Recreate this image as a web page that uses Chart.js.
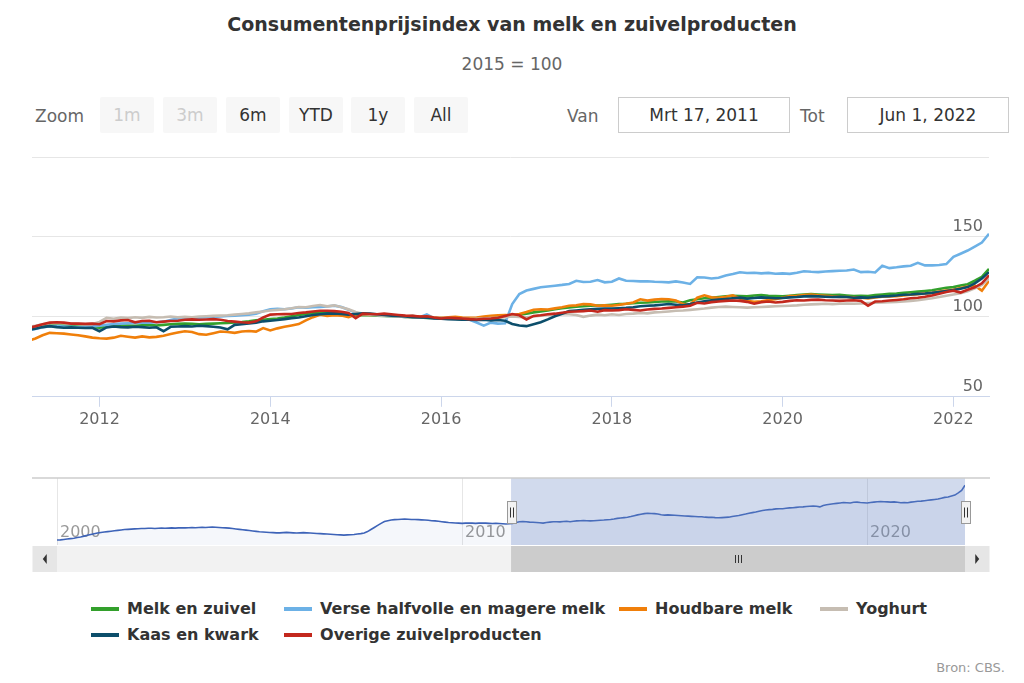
<!DOCTYPE html>
<html lang="nl">
<head>
<meta charset="utf-8">
<title>Consumentenprijsindex van melk en zuivelproducten</title>
<script src="https://cdn.jsdelivr.net/npm/chart.js@4.4.0/dist/chart.umd.min.js"></script>
<style>
  html, body { margin: 0; padding: 0; background: #fff; }
  body { width: 1024px; height: 683px; position: relative; overflow: hidden;
         font-family: "DejaVu Sans", Verdana, sans-serif; }
  .title { position: absolute; top: 13px; left: 0; width: 1024px; text-align: center;
           font-size: 19px; font-weight: bold; color: #333; }
  .subtitle { position: absolute; top: 54px; left: 0; width: 1024px; text-align: center;
              font-size: 17px; color: #666; }
  .lbl { position: absolute; top: 106px; font-size: 17px; color: #666; }
  .btn { position: absolute; top: 97px; width: 54px; height: 36px; line-height: 36px;
         background: #f7f7f7; border-radius: 2px; text-align: center; font-size: 17px; color: #333; }
  .btn.off { color: #ccc; }
  .box { position: absolute; top: 97px; height: 34px; line-height: 34px; border: 1px solid #ccc;
         text-align: center; font-size: 17px; color: #333; }
  #mainChart { position: absolute; left: 0; top: 140px; }
  #navChart { position: absolute; left: 0; top: 470px; }
  #legend { position: absolute; left: 0; top: 598px; width: 1024px; display: flex; justify-content: center; }
  #legend .grid { display: grid; grid-template-columns: 193px 335px 201px auto; row-gap: 5px; margin-right: 6px; }
  .legend-item { display: flex; align-items: center; font-size: 16px; font-weight: bold; color: #333; height: 21px; }
  .legend-line { width: 28px; height: 4px; margin-right: 8px; }
  .credits { position: absolute; right: 19px; top: 660px; font-size: 13px; color: #999; }
</style>
</head>
<body>
<div class="title">Consumentenprijsindex van melk en zuivelproducten</div>
<div class="subtitle">2015 = 100</div>

<div class="lbl" style="left:35px">Zoom</div>
<div class="btn off" style="left:100px">1m</div>
<div class="btn off" style="left:163px">3m</div>
<div class="btn" style="left:226px">6m</div>
<div class="btn" style="left:289px">YTD</div>
<div class="btn" style="left:351px">1y</div>
<div class="btn" style="left:414px">All</div>
<div class="lbl" style="left:567px">Van</div>
<div class="box" style="left:618px;width:170px">Mrt 17, 2011</div>
<div class="lbl" style="left:800px">Tot</div>
<div class="box" style="left:847px;width:160px">Jun 1, 2022</div>

<canvas id="mainChart" width="1024" height="300"></canvas>
<canvas id="navChart" width="1024" height="110"></canvas>
<div id="legend"><div class="grid" id="legendGrid"></div></div>
<div class="credits">Bron: CBS.</div>

<script>
// ===== DATA (maandcijfers, 2015 = 100) =====
// hoofdgrafiek: mrt 2011 t/m jun 2022
const startJaar = 2011;
const startMaand = 3;

const reeksNamen = ['Melk en zuivel', 'Verse halfvolle en magere melk', 'Houdbare melk',
                    'Yoghurt', 'Kaas en kwark', 'Overige zuivelproducten'];
const reeksKleuren = ['#33a02c', '#6cb1e6', '#f07f0a', '#c6bdb2', '#0c4e6b', '#c3281d'];

const melkEnZuivel = [
  92.6, 93.0, 93.8, 94.5, 94.8, 94.6, 94.2, 94.0, 93.8, 93.6,
  93.2, 93.8, 94.2, 94.5, 94.6, 94.4, 94.8, 95.0, 94.6, 95.0, 95.4, 95.6,
  95.8, 95.6, 95.4, 95.6, 95.8, 96.0, 96.2, 96.5, 96.8, 97.2, 97.8, 98.2,
  98.6, 99.0, 99.6, 100.4, 101.2, 101.8, 102.4, 102.8, 102.6, 102.4, 102.0, 101.4,
  101.0, 101.2, 101.0, 100.8, 100.6, 100.4, 100.2, 100.0, 99.8, 99.6, 99.4, 99.4,
  99.0, 98.8, 98.9, 98.6, 98.4, 98.6, 98.8, 99.0, 99.6, 100.2, 100.6, 101.4,
  102.0, 102.8, 103.4, 104.0, 104.8, 105.4, 105.9, 106.3, 106.6, 107.0, 107.1, 107.2,
  107.6, 108.0, 108.2, 108.5, 108.8, 109.0, 109.3, 109.6, 109.8, 109.6, 109.0, 110.4,
  111.0, 111.6, 112.0, 112.4, 112.8, 113.2, 113.0, 112.8, 113.4, 113.6, 113.2, 113.0,
  112.8, 113.2, 113.6, 114.0, 114.2, 114.0, 113.8, 113.6, 113.8, 113.4, 113.0, 113.2,
  113.0, 113.6, 114.0, 114.4, 114.6, 115.0, 115.4, 115.8, 116.2, 116.6, 117.4, 118.2,
  118.6, 119.6, 120.4, 122.6, 125.0, 130.0
];

const verseMelk = [
  91.5, 92.5, 93.5, 94.0, 94.2, 94.0, 93.8, 93.5, 93.8, 94.0,
  94.5, 95.0, 95.5, 95.8, 96.0, 96.2, 96.5, 96.4, 96.6, 97.0, 98.0, 99.0,
  99.2, 99.0, 99.4, 99.8, 100.0, 100.2, 100.5, 100.8, 101.0, 101.3, 102.0, 103.5,
  104.8, 105.0, 104.8, 105.2, 106.0, 105.8, 106.0, 106.2, 106.5, 107.0, 106.2, 104.5,
  102.5, 101.5, 101.8, 101.2, 100.8, 100.5, 100.2, 100.0, 100.6, 99.8, 101.5, 99.2,
  99.0, 98.8, 99.2, 98.5, 98.2, 96.5, 94.5, 96.4, 95.8, 96.0, 108.0, 114.3,
  116.5, 117.5, 118.5, 119.0, 119.5, 120.0, 120.6, 122.6, 121.8, 122.0, 123.0, 121.6,
  122.0, 124.0, 122.6, 122.4, 122.2, 122.3, 122.0, 121.8, 121.6, 122.2, 121.5, 120.6,
  124.8, 124.6, 124.0, 124.5, 125.9, 126.8, 127.9, 127.4, 127.6, 127.2, 127.5, 127.0,
  127.2, 126.9, 127.6, 128.5, 128.2, 128.0, 128.4, 128.6, 128.8, 129.0, 129.6, 128.0,
  128.2, 127.8, 132.0, 130.5, 131.0, 131.6, 132.0, 133.8, 132.2, 132.2, 132.4, 133.0,
  137.5, 139.5, 141.5, 144.0, 146.5, 152.0
];

const houdbareMelk = [
  85.0, 86.5, 88.5, 90.0, 89.8, 89.5, 89.0, 88.5, 87.8, 87.0,
  86.6, 86.4, 87.0, 88.2, 87.6, 87.0, 87.8, 87.2, 87.5, 88.2, 89.3, 90.2,
  91.0, 90.5, 89.2, 88.8, 89.8, 90.8, 90.5, 90.0, 90.8, 91.2, 90.8, 93.0,
  91.5, 92.8, 93.8, 94.6, 95.5, 97.8, 99.8, 101.3, 100.6, 101.0, 100.8, 99.8,
  101.5, 101.8, 101.2, 101.5, 101.0, 100.8, 100.5, 100.4, 100.5, 100.2, 100.0, 99.8,
  99.6, 99.8, 100.0, 99.5, 99.4, 99.6, 100.2, 100.6, 101.0, 101.2, 101.0, 101.8,
  103.0, 104.5, 104.8, 104.6, 105.3, 106.0, 107.0, 107.2, 108.0, 107.8, 107.0, 107.2,
  107.0, 107.5, 108.2, 109.0, 111.0, 110.2, 110.8, 111.2, 111.0, 110.2, 108.0, 107.6,
  112.0, 113.5, 112.2, 112.0, 112.6, 113.5, 111.5, 110.0, 109.5, 109.8, 110.5, 111.0,
  112.0, 113.0, 113.2, 113.6, 114.0, 113.5, 113.2, 112.8, 112.5, 112.4, 112.2, 112.0,
  111.5, 112.2, 112.6, 112.8, 113.0, 113.4, 113.8, 114.2, 114.6, 115.0, 115.8, 116.5,
  117.0, 118.0, 119.0, 119.5, 116.4, 122.5
];

const yoghurt = [
  93.8, 94.4, 95.4, 96.0, 96.2, 96.0, 95.8, 95.6, 95.4, 95.6,
  96.8, 99.4, 98.8, 99.6, 99.2, 99.8, 99.4, 100.0, 99.6, 99.8, 100.2, 99.8,
  100.0, 99.8, 100.2, 100.4, 100.6, 100.8, 101.0, 101.4, 101.8, 102.2, 102.8, 103.4,
  104.0, 104.4, 104.8, 105.4, 106.2, 106.0, 106.8, 107.4, 106.6, 107.2, 106.0, 104.8,
  103.0, 102.0, 101.4, 101.0, 100.8, 100.4, 100.2, 100.0, 99.8, 99.6, 99.6, 99.4,
  99.4, 99.2, 99.0, 98.8, 98.6, 98.8, 99.0, 99.2, 99.4, 99.8, 100.2, 100.0,
  99.8, 100.2, 100.8, 101.2, 101.4, 101.8, 101.6, 101.2, 100.0, 100.8, 101.4, 101.0,
  101.6, 101.2, 101.8, 102.0, 102.4, 102.2, 102.8, 103.0, 103.4, 103.8, 104.0, 104.4,
  104.8, 105.2, 105.8, 106.2, 106.4, 106.2, 106.0, 105.8, 106.0, 106.2, 106.4, 106.6,
  106.8, 107.0, 107.2, 107.6, 107.8, 108.0, 108.2, 108.0, 108.2, 108.4, 108.2, 108.4,
  108.6, 108.8, 109.0, 109.2, 109.4, 109.6, 110.0, 110.4, 111.0, 111.6, 112.4, 113.2,
  114.0, 114.8, 116.0, 117.8, 120.0, 124.0
];

const kaasEnKwark = [
  92.0, 92.6, 93.6, 94.2, 93.6, 93.2, 93.4, 93.2, 93.0, 93.2,
  91.0, 93.4, 94.0, 93.6, 93.4, 93.8, 93.6, 93.2, 93.5, 91.0, 93.8, 94.0,
  94.2, 94.0, 94.4, 94.2, 93.8, 93.4, 92.2, 95.0, 95.4, 95.8, 96.4, 97.2,
  97.6, 98.0, 98.6, 99.2, 99.6, 100.4, 101.2, 101.6, 102.0, 102.2, 101.8, 101.4,
  101.8, 102.2, 102.0, 101.6, 101.2, 100.8, 100.6, 100.2, 99.8, 99.6, 99.4, 99.0,
  98.8, 98.6, 98.4, 98.2, 98.2, 98.0, 98.2, 97.8, 98.0, 97.6, 95.6, 94.6,
  94.2, 95.4, 96.6, 98.4, 100.4, 102.0, 103.6, 104.0, 104.4, 104.8, 105.0, 105.2,
  105.2, 105.4, 105.6, 106.0, 106.6, 107.0, 107.2, 107.6, 108.0, 107.6, 107.2, 108.0,
  109.0, 109.8, 110.4, 110.8, 111.2, 111.6, 112.0, 111.4, 111.8, 112.2, 112.0, 111.6,
  111.8, 112.2, 112.4, 112.8, 113.0, 112.8, 112.6, 112.4, 112.6, 112.4, 112.0, 112.2,
  112.0, 112.4, 112.8, 113.0, 113.4, 113.8, 114.0, 114.4, 114.6, 115.0, 115.6, 116.2,
  116.8, 117.6, 118.6, 121.0, 124.0, 128.0
];

const overigeZuivel = [
  93.0, 94.2, 95.4, 96.4, 96.6, 96.4, 95.8, 95.8, 95.6, 95.8,
  95.4, 97.4, 97.2, 97.8, 98.0, 96.6, 97.4, 97.6, 96.6, 97.0, 97.4, 97.6,
  98.2, 98.4, 98.2, 98.4, 98.6, 98.2, 97.4, 97.0, 96.6, 96.4, 97.2, 99.6,
  101.4, 101.6, 101.7, 101.8, 102.4, 102.8, 103.4, 103.8, 103.8, 103.6, 103.2, 102.4,
  99.2, 102.0, 101.8, 101.6, 102.0, 101.6, 101.2, 100.8, 100.6, 100.2, 100.4, 99.6,
  99.0, 99.4, 99.2, 99.0, 98.6, 98.4, 98.8, 99.0, 99.4, 100.6, 101.8, 101.0,
  98.4, 100.6, 101.0, 101.6, 102.0, 102.6, 103.2, 103.4, 103.6, 104.0, 103.2, 104.2,
  104.0, 104.2, 104.8, 104.4, 104.0, 104.6, 105.0, 105.2, 105.6, 106.0, 106.4, 107.0,
  108.8, 108.4, 109.2, 109.6, 110.0, 110.2, 110.0, 109.4, 108.2, 109.2, 109.6, 109.0,
  109.4, 110.0, 110.4, 110.2, 110.6, 110.8, 110.4, 110.2, 110.0, 110.2, 110.4, 110.0,
  107.0, 109.6, 109.8, 110.2, 110.6, 111.0, 111.6, 112.0, 112.6, 113.4, 114.4, 115.6,
  116.4, 115.2, 117.0, 118.5, 121.0, 126.0
];

// navigator: melk en zuivel vanaf jan 2000 t/m feb 2011 (daarna melkEnZuivel)
const navStartJaar = 2000;
const melkHistorie = [
  76.8, 77.0, 77.4, 77.8, 78.2, 78.6, 79.2, 79.8, 80.6, 81.4, 82.2, 83.0,
  83.6, 84.2, 84.6, 85.0, 85.4, 85.8, 86.2, 86.6, 87.0, 87.2, 87.4, 87.6,
  87.8, 88.0, 88.0, 88.2, 88.2, 88.0, 88.2, 88.4, 88.2, 88.4, 88.6, 88.4,
  88.6, 88.8, 88.6, 88.8, 89.0, 88.8, 89.0, 89.2, 89.0, 89.2, 89.4, 89.2,
  89.0, 88.8, 88.6, 88.4, 88.0, 87.6, 87.2, 86.8, 86.4, 86.0, 85.6, 85.2,
  84.8, 84.6, 84.4, 84.2, 84.0, 83.8, 83.8, 84.0, 84.2, 84.0, 83.8, 83.6,
  83.8, 84.0, 83.8, 83.6, 83.4, 83.2, 83.0, 82.8, 82.6, 82.4, 82.2, 82.0,
  81.8, 81.6, 81.8, 82.0, 82.2, 82.6, 83.0, 83.6, 85.0, 87.0, 89.0, 91.0,
  93.0, 94.8, 95.6, 96.2, 96.6, 96.8, 97.0, 97.2, 97.0, 96.8, 96.8, 96.6,
  96.4, 96.2, 96.0, 95.6, 95.4, 95.0, 94.6, 94.2, 93.8, 93.6, 93.4, 93.2,
  93.0, 93.2, 93.4, 93.2, 93.0, 93.2, 93.4, 93.2, 93.0, 92.8, 93.0, 92.8,
  92.6, 92.4
];

// zichtbaar bereik: mrt 17, 2011 t/m jun 1, 2022 (in jaren)
const vanJaar = 2011 + 2 / 12 + 16 / 31 / 12;
const totJaar = 2022 + 5 / 12;
const xTicks = [2012, 2014, 2016, 2018, 2020, 2022];
const yTicks = [50, 100, 150, 200];
const navTicks = [2000, 2010, 2020];

const FONT = '"DejaVu Sans", Verdana, sans-serif';

function toPoints(values, jaar, maand) {
    return values.map((v, i) => ({ x: jaar + (maand - 1 + i) / 12, y: v }));
}

const reeksen = [melkEnZuivel, verseMelk, houdbareMelk, yoghurt, kaasEnKwark, overigeZuivel];

// ===== HOOFDGRAFIEK =====
new Chart(document.getElementById('mainChart'), {
    type: 'line',
    data: {
        datasets: reeksen.map((vals, i) => ({
            label: reeksNamen[i],
            data: toPoints(vals, startJaar, startMaand),
            borderColor: reeksKleuren[i],
            borderWidth: 2.6,
            pointRadius: 0,
            tension: 0,
            fill: false,
            order: 6 - i
        }))
    },
    options: {
        responsive: false,
        animation: false,
        events: [],
        layout: { padding: { left: 32, right: 35, top: 17, bottom: 8 } },
        plugins: { legend: { display: false }, tooltip: { enabled: false } },
        scales: {
            x: {
                type: 'linear',
                min: vanJaar,
                max: totJaar,
                afterBuildTicks: s => { s.ticks = xTicks.map(v => ({ value: v })); },
                border: { color: '#ccd6eb', width: 1 },
                grid: { drawOnChartArea: false, drawTicks: true, tickLength: 10, tickColor: '#ccd6eb' },
                ticks: {
                    padding: 3,
                    color: '#666',
                    font: { family: FONT, size: 16 },
                    maxRotation: 0,
                    callback: v => String(v)
                }
            },
            y: {
                position: 'right',
                min: 50,
                max: 200,
                afterBuildTicks: s => { s.ticks = yTicks.map(v => ({ value: v })); },
                border: { display: false },
                grid: { color: '#e6e6e6', drawTicks: false },
                ticks: {
                    mirror: true,
                    padding: -6,
                    labelOffset: -10,
                    color: '#666',
                    font: { family: FONT, size: 16 },
                    callback: v => (v === 200 ? '' : String(v))
                }
            }
        }
    }
});

// ===== NAVIGATOR =====
const navigatorExtras = {
    id: 'navigatorExtras',
    beforeDatasetsDraw(chart) {
        const { ctx, chartArea: a, scales: { x } } = chart;
        ctx.save();
        ctx.fillStyle = '#999';
        ctx.font = '16px ' + FONT;
        x.ticks.forEach(t => {
            ctx.fillText(String(t.value), x.getPixelForValue(t.value) + 3, a.bottom - 8);
        });
        ctx.restore();
    },
    afterDraw(chart) {
        const { ctx, chartArea: a, scales: { x } } = chart;
        const x0 = x.getPixelForValue(vanJaar);
        const x1 = x.getPixelForValue(totJaar);
        ctx.save();

        // masker geselecteerd bereik
        ctx.fillStyle = 'rgba(102,133,194,0.3)';
        ctx.fillRect(x0, a.top, x1 - x0, a.bottom - a.top);

        // outline boven
        ctx.strokeStyle = '#cccccc';
        ctx.lineWidth = 1.5;
        ctx.beginPath();
        ctx.moveTo(a.left - 25, a.top);
        ctx.lineTo(a.right + 25, a.top);
        ctx.stroke();

        // scrollbar
        const sy = a.bottom + 1, sh = 26, bw = 24.5;
        ctx.fillStyle = '#f2f2f2';
        ctx.fillRect(a.left, sy, a.right - a.left, sh);
        ctx.fillStyle = '#cccccc';
        ctx.fillRect(x0, sy, x1 - x0, sh);
        ctx.fillStyle = '#e6e6e6';
        ctx.fillRect(a.left - bw, sy, bw, sh);
        ctx.fillRect(a.right, sy, bw, sh);

        // pijltjes
        ctx.fillStyle = '#333';
        const my = sy + sh / 2;
        ctx.beginPath();
        ctx.moveTo(a.left - bw / 2 - 2, my);
        ctx.lineTo(a.left - bw / 2 + 2, my - 5);
        ctx.lineTo(a.left - bw / 2 + 2, my + 5);
        ctx.fill();
        ctx.beginPath();
        ctx.moveTo(a.right + bw / 2 + 2, my);
        ctx.lineTo(a.right + bw / 2 - 2, my - 5);
        ctx.lineTo(a.right + bw / 2 - 2, my + 5);
        ctx.fill();

        // rifles
        ctx.strokeStyle = '#333';
        ctx.lineWidth = 1;
        const mx = Math.round((x0 + x1) / 2) + 0.5;
        [-3, 0, 3].forEach(d => {
            ctx.beginPath();
            ctx.moveTo(mx + d, my - 4);
            ctx.lineTo(mx + d, my + 4);
            ctx.stroke();
        });

        // handvatten
        const hy = Math.round((a.top + a.bottom) / 2 - 11) + 0.5;
        [x0, x1].forEach(hx => {
            const left = Math.round(hx - 4.5) + 0.5;
            ctx.fillStyle = '#f2f2f2';
            ctx.strokeStyle = '#999';
            ctx.fillRect(left, hy, 9, 22);
            ctx.strokeRect(left, hy, 9, 22);
            ctx.strokeStyle = '#333';
            [3, 6].forEach(d => {
                ctx.beginPath();
                ctx.moveTo(left + d, hy + 6);
                ctx.lineTo(left + d, hy + 16);
                ctx.stroke();
            });
        });
        ctx.restore();
    }
};

new Chart(document.getElementById('navChart'), {
    type: 'line',
    data: {
        datasets: [{
            data: toPoints(melkHistorie.concat(melkEnZuivel), navStartJaar, 1),
            borderColor: '#3d63b8',
            borderWidth: 1.6,
            backgroundColor: 'rgba(51,92,173,0.05)',
            fill: 'start',
            pointRadius: 0,
            tension: 0
        }]
    },
    options: {
        responsive: false,
        animation: false,
        events: [],
        layout: { padding: { left: 57, right: 59, top: 8, bottom: 35 } },
        plugins: { legend: { display: false }, tooltip: { enabled: false } },
        scales: {
            x: {
                type: 'linear',
                min: navStartJaar,
                max: totJaar,
                afterBuildTicks: s => { s.ticks = navTicks.map(v => ({ value: v })); },
                border: { display: false },
                grid: { color: '#e6e6e6', drawTicks: false },
                ticks: { display: false }
            },
            y: { display: false, min: 72, max: 137 }
        }
    },
    plugins: [navigatorExtras]
});

// ===== LEGENDA =====
const legendGrid = document.getElementById('legendGrid');
reeksNamen.forEach((naam, i) => {
    legendGrid.innerHTML += `
        <div class="legend-item">
            <div class="legend-line" style="background:${reeksKleuren[i]}"></div>
            <span>${naam}</span>
        </div>
    `;
});
</script>
</body>
</html>
